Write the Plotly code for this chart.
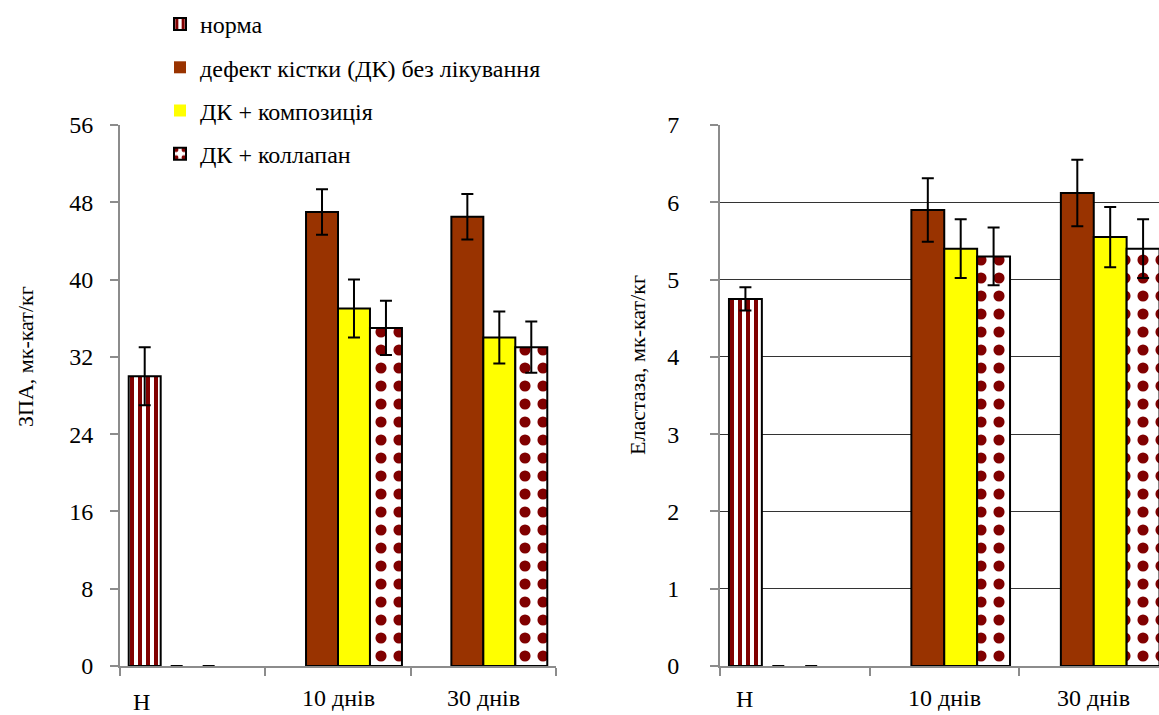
import plotly.graph_objects as go

# ---- data ----
categories = [0, 1, 2]
cat_labels = ["Н", "10 днів", "30 днів"]
series_names = ["норма", "дефект кістки (ДК) без лікування", "ДК + композиція", "ДК + коллапан"]

# ЗПА, мк-кат/кг
zpa_norma = [30.0, None, None]
zpa_norma_err = [3.0, 0, 0]
zpa_defect = [0, 47.0, 46.5]
zpa_defect_err = [0, 2.35, 2.35]
zpa_comp = [0, 37.0, 34.0]
zpa_comp_err = [0, 3.0, 2.7]
zpa_coll = [None, 35.0, 33.0]
zpa_coll_err = [0, 2.8, 2.65]

# Еластаза, мк-кат/кг
el_norma = [4.75, None, None]
el_norma_err = [0.15, 0, 0]
el_defect = [0, 5.9, 6.12]
el_defect_err = [0, 0.41, 0.43]
el_comp = [0, 5.4, 5.55]
el_comp_err = [0, 0.38, 0.39]
el_coll = [None, 5.3, 5.4]
el_coll_err = [0, 0.375, 0.38]

zpa_ticks = [0, 8, 16, 24, 32, 40, 48, 56]
el_ticks = [0, 1, 2, 3, 4, 5, 6, 7]

FONT = "Liberation Serif, Times New Roman, serif"
FS = 24
W, H = 1159, 715
plot_top, plot_bot = 125, 666
ph = plot_bot - plot_top

styles = [
    dict(color="white", pattern=dict(shape="|", fgcolor="#800000", bgcolor="white",
                                     fgopacity=1, size=8, solidity=0.5)),
    dict(color="#993300"),
    dict(color="#FFFF00"),
    dict(color="white", pattern=dict(shape=".", fgcolor="#800000", bgcolor="white",
                                     fgopacity=1, size=18, solidity=0.3)),
]

fig = go.Figure()

def add_set(vals, errs, xa, ya, show):
    for i, (v, e) in enumerate(zip(vals, errs)):
        m = dict(styles[i])
        # no outline on zero-height bars (only their error caps show)
        m["line"] = dict(color="black", width=[0 if (val == 0) else 2 for val in v])
        fig.add_trace(go.Bar(
            x=categories, y=v, name=series_names[i], marker=m,
            error_y=dict(type="data", array=e, visible=True, color="black", thickness=2, width=6),
            xaxis=xa, yaxis=ya, showlegend=show, legendgroup="g%d" % i,
        ))

add_set([zpa_norma, zpa_defect, zpa_comp, zpa_coll],
        [zpa_norma_err, zpa_defect_err, zpa_comp_err, zpa_coll_err], "x", "y", True)
add_set([el_norma, el_defect, el_comp, el_coll],
        [el_norma_err, el_defect_err, el_comp_err, el_coll_err], "x2", "y2", False)

axcol = "#8c8c8c"
xcommon = dict(tickmode="array", tickvals=[-0.5, 0.5, 1.5, 2.5], ticktext=["", "", "", ""],
               ticks="outside", ticklen=8, tickcolor=axcol, tickwidth=1.5,
               showline=True, linecolor=axcol, linewidth=2, showgrid=False, zeroline=False)
ycommon = dict(ticks="outside", ticklen=8, tickcolor=axcol, tickwidth=1.5,
               showline=True, linecolor=axcol, linewidth=2, zeroline=False,
               tickfont=dict(family=FONT, size=FS, color="black"))

fig.update_layout(
    width=W, height=H,
    margin=dict(l=0, r=0, t=plot_top, b=H - plot_bot, pad=0),
    paper_bgcolor="white", plot_bgcolor="white",
    barmode="group", bargap=0.12, bargroupgap=0,
    font=dict(family=FONT, size=FS, color="black"),
    xaxis=dict(domain=[120 / W, 556 / W], range=[-0.5, 2.5], anchor="y", **xcommon),
    xaxis2=dict(domain=[720 / W, 1.0], range=[-0.5, -0.5 + (W - 720) / 149.5], anchor="y2", **xcommon),
    yaxis=dict(range=[0, 56], tickvals=zpa_ticks, showgrid=False, anchor="x",
               ticklabelstandoff=12, **ycommon),
    yaxis2=dict(range=[0, 7], tickvals=el_ticks, showgrid=True, gridcolor="#333333", gridwidth=1,
                anchor="x2", ticklabelstandoff=26, **ycommon),
    legend=dict(x=160 / W, xanchor="left", y=1 + (plot_top - 2) / ph, yanchor="top",
                font=dict(family=FONT, size=FS, color="black"), tracegroupgap=9,
                bgcolor="rgba(0,0,0,0)", itemclick=False, itemdoubleclick=False),
    showlegend=True,
)

ann = []
# y-axis titles
ann.append(dict(text="ЗПА, мк-кат/кг", textangle=-90, xref="paper", yref="paper",
                x=25 / W, y=(plot_bot - 357) / ph, xanchor="center", yanchor="middle",
                showarrow=False, font=dict(family=FONT, size=22, color="black")))
ann.append(dict(text="Еластаза, мк-кат/кг", textangle=-90, xref="paper", yref="paper",
                x=637 / W, y=(plot_bot - 365) / ph, xanchor="center", yanchor="middle",
                showarrow=False, font=dict(family=FONT, size=22, color="black")))
# category labels
lab_left = [(-0.349, 702), (1, 698), (2, 698)]
lab_right = [(-0.333, 699), (1, 698), (2, 698)]
for (xv, ypx), t in zip(lab_left, cat_labels):
    ann.append(dict(text=t, xref="x", yref="paper", x=xv, y=(plot_bot - ypx) / ph,
                    xanchor="center", yanchor="middle",
                    showarrow=False, font=dict(family=FONT, size=FS, color="black")))
for (xv, ypx), t in zip(lab_right, cat_labels):
    ann.append(dict(text=t, xref="x2", yref="paper", x=xv, y=(plot_bot - ypx) / ph,
                    xanchor="center", yanchor="middle",
                    showarrow=False, font=dict(family=FONT, size=FS, color="black")))
fig.update_layout(annotations=ann)

fig.write_html("out.html", config={"displayModeBar": False},
               post_script="document.body.style.margin='0';document.body.style.overflow='hidden';")
